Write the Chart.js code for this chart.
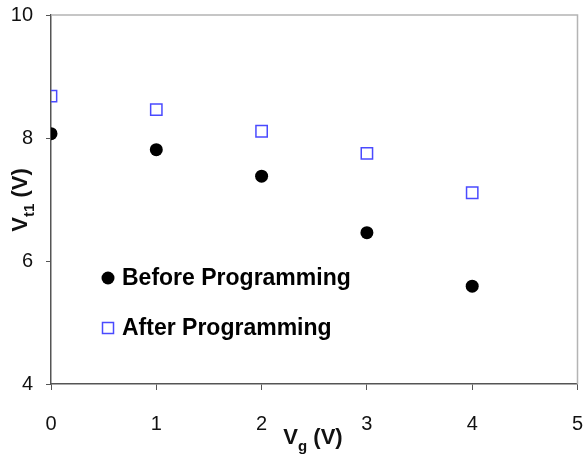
<!DOCTYPE html>
<html>
<head>
<meta charset="utf-8">
<script src="https://cdn.jsdelivr.net/npm/chart.js@4.4.1/dist/chart.umd.min.js"></script>
<style>
  html, body { margin: 0; padding: 0; background: #fff; }
  .wrap { width: 587px; height: 457px; position: relative; }
</style>
</head>
<body>
<div class="wrap"><canvas id="myChart" width="587" height="457"></canvas></div>
<script>
// data
const gateVoltage = [0, 1, 2, 3, 4];
const beforeProgramming = [8.07, 7.81, 7.38, 6.46, 5.59];
const afterProgramming = [8.68, 8.46, 8.11, 7.75, 7.11];
const xTicks = [0, 1, 2, 3, 4, 5];
const yTicks = [4, 6, 8, 10];
const seriesNames = ['Before Programming', 'After Programming'];

const blue = '#4a4aff';
const boldMain = 'bold 22px "Liberation Sans", Arial';
const boldSub = 'bold 15px "Liberation Sans", Arial';
const legendFont = 'bold 23px "Liberation Sans", Arial';

// light box on top + right, axis titles with subscripts, legend inside plot
const extras = {
  id: 'extras',
  beforeDatasetsDraw(chart) {
    const { ctx, chartArea: a } = chart;
    ctx.save();
    ctx.strokeStyle = '#b4b4b4';
    ctx.lineWidth = 1.5;
    ctx.beginPath();
    ctx.moveTo(a.left, a.top);
    ctx.lineTo(a.right, a.top);
    ctx.lineTo(a.right, a.bottom);
    ctx.stroke();
    ctx.restore();
  },
  afterDraw(chart) {
    const { ctx } = chart;
    ctx.save();
    ctx.fillStyle = '#111';
    ctx.textBaseline = 'alphabetic';

    function subText(parts, x, y) {
      // parts: [text, isSub]
      let w = 0;
      parts.forEach(p => {
        ctx.font = p[1] ? boldSub : boldMain;
        w += ctx.measureText(p[0]).width;
      });
      let cx = x - w / 2;
      parts.forEach(p => {
        ctx.font = p[1] ? boldSub : boldMain;
        ctx.fillText(p[0], cx, p[1] ? y + 7 : y);
        cx += ctx.measureText(p[0]).width;
      });
    }

    // x title
    subText([['V', false], ['g', true], [' (V)', false]], 313, 444);

    // y title
    ctx.save();
    ctx.translate(27, 200);
    ctx.rotate(-Math.PI / 2);
    subText([['V', false], ['t1', true], [' (V)', false]], 0, 0);
    ctx.restore();

    // legend
    const lx = 108;
    const ly = [278, 328];
    ctx.font = legendFont;
    ctx.fillStyle = '#000';
    ctx.beginPath();
    ctx.arc(lx, ly[0], 6.5, 0, Math.PI * 2);
    ctx.fill();
    ctx.textBaseline = 'middle';
    ctx.fillText(seriesNames[0], 122, ly[0] + 1);

    ctx.strokeStyle = blue;
    ctx.lineWidth = 1.5;
    ctx.strokeRect(lx - 5.5, ly[1] - 5.5, 11, 11);
    ctx.fillText(seriesNames[1], 122, ly[1] + 1);
    ctx.restore();
  }
};

const ctx = document.getElementById('myChart').getContext('2d');
const chart = new Chart(ctx, {
  type: 'scatter',
  data: {
    datasets: [{
      label: seriesNames[0],
      data: gateVoltage.map((x, i) => ({ x: x, y: beforeProgramming[i] })),
      pointStyle: 'circle',
      pointRadius: 6.5,
      backgroundColor: '#000',
      borderColor: '#000',
      borderWidth: 0
    }, {
      label: seriesNames[1],
      data: gateVoltage.map((x, i) => ({ x: x, y: afterProgramming[i] })),
      pointStyle: 'rect',
      pointRadius: 8,
      backgroundColor: 'rgba(0,0,0,0)',
      borderColor: blue,
      borderWidth: 1.5
    }]
  },
  options: {
    responsive: false,
    animation: false,
    layout: { padding: { top: 15, right: 9, left: 0, bottom: 0 } },
    plugins: {
      legend: { display: false },
      tooltip: { enabled: false }
    },
    scales: {
      x: {
        type: 'linear',
        min: 0,
        max: 5,
        afterBuildTicks: axis => { axis.ticks = xTicks.map(v => ({ value: v })); },
        afterFit: axis => {
          axis.height = 73;
          axis.paddingLeft = 0;
          axis.paddingRight = 0;
        },
        grid: { drawOnChartArea: false, drawTicks: true, tickLength: 6, color: '#555' },
        border: { color: '#555', width: 1.5 },
        ticks: { color: '#111', font: { size: 20, family: '"Liberation Sans", Arial' }, padding: 22 }
      },
      y: {
        min: 4,
        max: 10,
        afterBuildTicks: axis => { axis.ticks = yTicks.map(v => ({ value: v })); },
        afterFit: axis => {
          axis.width = 51;
          axis.paddingTop = 0;
          axis.paddingBottom = 0;
        },
        grid: { drawOnChartArea: false, drawTicks: true, tickLength: 5, color: '#555' },
        border: { color: '#555', width: 1.5 },
        ticks: { color: '#111', font: { size: 20, family: '"Liberation Sans", Arial' }, padding: 13 }
      }
    }
  },
  plugins: [extras]
});
</script>
</body>
</html>
